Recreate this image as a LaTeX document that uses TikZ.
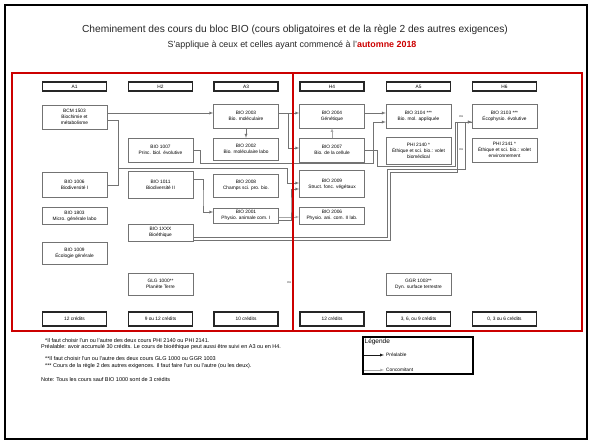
\documentclass[tikz,border=0pt]{standalone}
\usepackage{fontspec}
\setmainfont{Liberation Sans}
\usetikzlibrary{positioning}
\definecolor{rouge}{RGB}{204,0,0}

\begin{document}
\begin{tikzpicture}[x=1pt,y=-1pt,
  cours/.style={draw=black!55,line width=0.4pt,minimum width=65pt,align=center,inner sep=0pt,font=\fontsize{4.8}{6}\selectfont},
  entete/.style={draw=black!85,line width=1.1pt,minimum width=64pt,inner sep=0pt,font=\fontsize{4.8}{6}\selectfont},
  pre/.style={draw=black!55,line width=0.4pt,-latex},
  lien/.style={draw=black!55,line width=0.4pt},
  conc/.style={draw=black!35,line width=0.3pt,-latex},
  ou/.style={inner sep=0pt,font=\fontsize{3.6}{4}\selectfont,text=black!70},
  note/.style={anchor=west,inner sep=0pt,font=\fontsize{5.5}{6.5}\selectfont}]
 \useasboundingbox (0,0) rectangle (592,444);
 \draw[line width=1.2pt] (5,5) rectangle (587,439);
 \node[font=\fontsize{10.2}{12}\selectfont,text=black!85] (titre) at (295,30) {Cheminement des cours du bloc BIO (cours obligatoires et de la règle 2 des autres exigences)};
 \node[font=\fontsize{8.9}{11}\selectfont,text=black!85] (soustitre) at (292,45) {S'applique à ceux et celles ayant commencé à l'\textcolor{rouge}{\bfseries automne 2018}};

 \node[entete,minimum height=9pt] (hA1) at (74.5,86.5) {A1};
 \node[entete,minimum height=9pt] (hH2) at (160.5,86.5) {H2};
 \node[entete,minimum height=9pt] (hA3) at (246,86.5) {A3};
 \node[entete,minimum height=9pt] (hH4) at (332,86.5) {H4};
 \node[entete,minimum height=9pt] (hA5) at (418.5,86.5) {A5};
 \node[entete,minimum height=9pt] (hH6) at (504.5,86.5) {H6};

 \node[cours,minimum height=24pt] (bcm) at (74.5,117) {BCM 1503\\Biochimie et\\métabolisme};
 \node[cours,minimum height=25pt] (bio1006) at (74.5,185) {BIO 1006\\Biodiversité I};
 \node[cours,minimum height=17pt] (bio1803) at (74.5,216) {BIO 1803\\Micro. générale labo};
 \node[cours,minimum height=22pt] (bio1009) at (74.5,253) {BIO 1009\\Écologie générale};

 \node[cours,minimum height=24pt] (bio1007) at (160.5,150) {BIO 1007\\Princ. biol. évolutive};
 \node[cours,minimum height=27pt] (bio1011) at (160.5,184.5) {BIO 1011\\Biodiversité II};
 \node[cours,minimum height=17pt] (bioeth) at (160.5,232.5) {BIO 1XXX\\Bioéthique};
 \node[cours,minimum height=22pt] (glg) at (160.5,284) {GLG 1000**\\Planète Terre};

 \node[cours,minimum height=24pt] (bio2003) at (246,116) {BIO 2003\\Bio. moléculaire};
 \node[cours,minimum height=22pt] (bio2002) at (246,149) {BIO 2002\\Bio. moléculaire labo};
 \node[cours,minimum height=23pt] (bio2008) at (246,185.5) {BIO 2008\\Champs sci. pro. bio.};
 \node[cours,minimum height=15pt] (bio2001) at (246,215.5) {BIO 2001\\Physio. animale com. I};

 \node[cours,minimum height=24pt] (bio2004) at (332,116) {BIO 2004\\Génétique};
 \node[cours,minimum height=24pt] (bio2007) at (332,150) {BIO 2007\\Bio. de la cellule};
 \node[cours,minimum height=27pt] (bio2009) at (332,184) {BIO 2009\\Struct. fonc. végétaux};
 \node[cours,minimum height=17pt] (bio2006) at (332,215.5) {BIO 2006\\Physio. ani. com. II lab.};

 \node[cours,minimum height=24pt] (bio3104) at (418.5,116) {BIO 3104 ***\\Bio. mol. appliquée};
 \node[cours,minimum height=27pt] (phi2140) at (418.5,151) {PHI 2140 *\\Éthique et sci. bio.: volet\\biomédical};
 \node[cours,minimum height=22pt] (ggr) at (418.5,284) {GGR 1003**\\Dyn. surface terrestre};

 \node[cours,minimum height=24pt] (bio3103) at (504.5,116) {BIO 3103 ***\\Écophysio. évolutive};
 \node[cours,minimum height=24pt] (phi2141) at (504.5,150) {PHI 2141 *\\Éthique et sci. bio.: volet\\environnement};

 \node[entete,minimum height=14pt] (cA1) at (74.5,319) {12 crédits};
 \node[entete,minimum height=14pt] (cH2) at (160.5,319) {9 ou 12 crédits};
 \node[entete,minimum height=14pt] (cA3) at (246,319) {10 crédits};
 \node[entete,minimum height=14pt] (cH4) at (332,319) {12 crédits};
 \node[entete,minimum height=14pt] (cA5) at (418.5,319) {3, 6, ou 9 crédits};
 \node[entete,minimum height=14pt] (cH6) at (504.5,319) {0, 3 ou 6 crédits};

 \coordinate (ja) at (118,168);
 \coordinate (jb) at (287,168);
 \coordinate (jc) at (288,113);
 \coordinate (jd) at (200,163);
 \coordinate (je) at (373,163);
 \coordinate (jf) at (377,166);
 \coordinate (jg) at (455,166);
 \coordinate (jh) at (387,169);
 \coordinate (ji) at (465,169);
 \coordinate (jj) at (390,172);
 \coordinate (jk) at (457,172);
 \coordinate (jl) at (203,200);
 \coordinate (jm) at (291,205);

 \draw[pre] ([yshift=3pt]bio2003.west -| bcm.east) -- ([yshift=3pt]bio2003.west);
 \draw[lien] ([yshift=-3pt]bcm.east) -| (ja);
 \draw[lien] (bio1006.east) -| (ja);
 \draw[pre] (ja) -- (jb) |- ([yshift=1pt]bio2009.west);
 \draw[pre] (bio2003.south) -- (bio2002.north);
 \draw[pre] ([yshift=3pt]bio2003.east) -- ([yshift=3pt]bio2004.west);
 \draw[pre] (jc) |- ([yshift=2pt]bio2007.west);
 \draw[conc] (bio2007.north) -- (bio2004.south);
 \draw[pre] ([yshift=3pt]bio2004.east) -- ([yshift=3pt]bio3104.west);
 \draw[pre] (bio1007.east) -| (jd) -- (je) |- ([yshift=-6pt]bio3104.west);
 \draw[pre] (bio2007.east) -| (jf) -- (jg) |- ([yshift=-6pt]bio3103.west);
 \draw[pre] ([yshift=-4.5pt]bioeth.east) -| (jh) -- (ji) |- ([yshift=-6pt]bio3103.west);
 \draw[lien] ([yshift=-7.5pt]bioeth.east) -| (jj) -- (jk) |- ([yshift=-6pt]bio3103.west);
 \draw[pre] ([yshift=5.5pt]bio1011.east) -| (jl) |- ([yshift=3.5pt]bio2001.west);
 \draw[conc] ([yshift=-1.5pt]bio2001.east) -- ([yshift=-1.5pt]bio2006.west);
 \draw[pre] ([yshift=-4.5pt]bio2001.east) -| (jm) |- ([yshift=-5pt]bio2009.west);

 \node[ou] (ou1) at (461,117) {ou};
 \node[ou,fill=white] (ou2) at (461,150) {ou};
 \node[ou] (ou3) at (289,283) {ou};

 \draw[rouge,line width=1.6pt] (12,73) rectangle (293,331);
 \draw[rouge,line width=1.6pt] (293,73) rectangle (582,331);

 \node[note] (n1) at (45,341) {*Il faut choisir l'un ou l'autre des deux cours PHI 2140 ou PHI 2141.};
 \node[note] (n2) at (41,347.5) {Préalable: avoir accumulé 30 crédits. Le cours de bioéthique peut aussi être suivi en A3 ou en H4.};
 \node[note] (n3) at (45,358.5) {**Il faut choisir l'un ou l'autre des deux cours GLG 1000 ou GGR 1003};
 \node[note] (n4) at (45,366.5) {*** Cours de la règle 2 des autres exigences. Il faut faire l'un ou l'autre (ou les deux).};
 \node[note] (n5) at (41,379) {Note: Tous les cours sauf BIO 1000 sont de 3 crédits};

 \node[draw,line width=1.1pt,minimum width=110pt,minimum height=37pt,inner sep=0pt] (legende) at (418,355.5) {};
 \node[anchor=north west,inner sep=0pt,font=\fontsize{6.5}{7.5}\selectfont] (legtitre) at ([xshift=2pt,yshift=-2pt]legende.north west) {Légende};
 \node[note,font=\fontsize{4.8}{6}\selectfont] (prealable) at (386,355) {Préalable};
 \node[note,font=\fontsize{4.8}{6}\selectfont] (concomitant) at (386,370) {Concomitant};
 \coordinate (lg1) at (364,355);
 \coordinate (lg2) at (364,370);
 \draw[pre,draw=black!90] (lg1) -- ([xshift=-2pt]prealable.west);
 \draw[conc] (lg2) -- ([xshift=-2pt]concomitant.west);
\end{tikzpicture}
\end{document}
